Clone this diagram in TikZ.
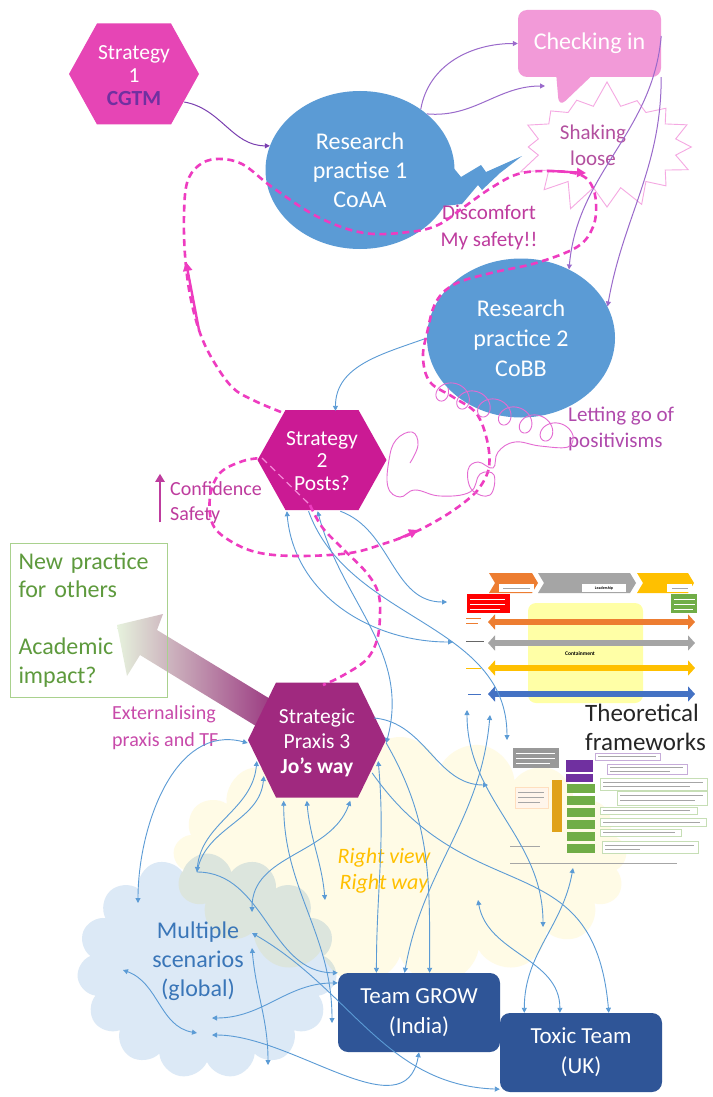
\documentclass[tikz,border=0pt]{standalone}
\usepackage{fontspec}
\setmainfont{Carlito}
\usetikzlibrary{shapes.geometric,shapes.symbols,shapes.callouts,arrows.meta,positioning}
\newcommand{\fsz}[2]{\fontsize{#1}{#2}\selectfont}
\definecolor{circblue}{HTML}{5B9BD5}
\definecolor{hexone}{HTML}{E645B5}
\definecolor{hextwo}{HTML}{CB1A94}
\definecolor{hexthree}{HTML}{A0297F}
\definecolor{cgtm}{HTML}{7030A0}
\definecolor{chkpink}{HTML}{F29AD8}
\definecolor{burstpink}{HTML}{F5A8E2}
\definecolor{loopcol}{HTML}{EE3CC0}
\definecolor{scribble}{HTML}{E46BD2}
\definecolor{purpline}{HTML}{9A6ACB}
\definecolor{purpdark}{HTML}{7A3FB0}
\definecolor{arrowblue}{HTML}{5B9BD5}
\definecolor{teamblue}{HTML}{2F5597}
\definecolor{labmag}{HTML}{BE3C9E}
\definecolor{shakecol}{HTML}{B3509F}
\definecolor{letcol}{HTML}{B04AAC}
\definecolor{extcol}{HTML}{C84AAA}
\definecolor{multcol}{HTML}{3A76B8}
\definecolor{rvyellow}{HTML}{FFC000}
\definecolor{npgreen}{HTML}{A9D18E}
\definecolor{nptext}{HTML}{5E9A3D}
\definecolor{arrlight}{HTML}{E6F2DD}
\definecolor{arrgreen}{HTML}{A9D18E}
\definecolor{arrpurple}{HTML}{952B7A}
\definecolor{beigecl}{HTML}{FFFBE6}
\definecolor{bluecl}{HTML}{DCE9F6}
\definecolor{tforange}{HTML}{ED7D31}
\definecolor{tfgrey}{HTML}{A5A5A5}
\definecolor{tfyellow}{HTML}{FFC000}
\definecolor{tfgreen}{HTML}{70AD47}
\definecolor{tfblue}{HTML}{4472C4}
\definecolor{tfpale}{HTML}{FFFFA6}
\definecolor{tfpurple}{HTML}{7030A0}
\definecolor{tfbar}{HTML}{E0A21A}
\begin{document}
\begin{tikzpicture}[x=1pt,y=-1pt,
  >={Triangle[length=5pt,width=5pt]},
  hexlbl/.style={rectangle,inner sep=0pt,text=white,align=center},
  circ/.style={ellipse,fill=circblue,text=white,align=center,inner sep=0pt,font=\fsz{24}{29}},
  team/.style={rectangle,rounded corners=10pt,fill=teamblue,text=white,align=center,inner sep=0pt,font=\fsz{23}{30}},
  lbl/.style={inner sep=0pt,align=center},
  blu/.style={draw=arrowblue,line width=0.9pt},
  purp/.style={draw=purpline,line width=1pt},
  loopdash/.style={draw=loopcol,line width=2.6pt,dash pattern=on 7pt off 4.5pt},
  looparr/.style={draw=loopcol,line width=2.4pt,-{Triangle[length=9pt,width=9pt]}},
  tfarr/.style={draw=#1,line width=6pt,{Triangle[length=7pt,width=15pt]}-{Triangle[length=7pt,width=15pt]}},
  txtline/.style={draw=black!35,line width=0.7pt},
  tfbox/.style={draw=#1,line width=0.5pt,fill=white}]

    \fill[white] (0,0) rectangle (712,1097);
    \useasboundingbox (0,0) rectangle (712,1097);

    % clouds behind the teams
    \draw (400,861) node (bgcloud) [cloud,cloud puffs=17,cloud ignores aspect,fill=beigecl,minimum width=454pt,minimum height=248pt] {};
    \draw (207,966) node (msscloud) [cloud,cloud puffs=15,cloud ignores aspect,fill=bluecl,blend mode=multiply,minimum width=260pt,minimum height=225pt] {};

    % theoretical frameworks picture
    \fill[tforange] (489,573) -- (532,573) -- (538,583) -- (532,593) -- (489,593) -- (495,583) -- cycle;
    \fill[tfgrey] (538,573) -- (630,573) -- (636,583) -- (630,593) -- (538,593) -- (544,583) -- cycle;
    \fill[tfyellow] (637,573) -- (688,573) -- (694,583) -- (688,593) -- (637,593) -- (643,583) -- cycle;
    \fill[white] (499,584) rectangle (534,592);
    \fill[white] (582,584) rectangle (626,592);
    \fill[white] (667,584) rectangle (692,592);
    \draw (604,588) node (lead) [lbl,font=\fsz{4}{5}\bfseries] {Leadership};
    \draw[txtline,line width=0.5pt] (503,588) -- (530,588);
    \draw[txtline,line width=0.5pt] (672,588) -- (688,588);
    \fill[red] (467,594) rectangle (510,613);
    \draw[white,line width=0.6pt] (470,599) -- (505,599);
    \draw[white,line width=0.6pt] (470,604) -- (505,604);
    \draw[white,line width=0.6pt] (470,609) -- (500,609);
    \fill[tfgreen] (671,594) rectangle (697,613);
    \draw[white,line width=0.6pt] (674,599) -- (695,599);
    \draw[white,line width=0.6pt] (674,604) -- (695,604);
    \draw[white,line width=0.6pt] (674,609) -- (693,609);
    \fill[tfpale,rounded corners=8pt] (528,603) rectangle (643,703);
    \draw[tfarr=tforange] (488,622) -- (695,622);
    \draw[tfarr=tfgrey] (488,643) -- (695,643);
    \draw[tfarr=tfyellow] (488,668) -- (695,668);
    \draw[tfarr=tfblue] (488,694) -- (695,694);
    \draw (580,654) node (contain) [lbl,font=\fsz{5.5}{6}\bfseries] {Containment};
    \draw[tforange,line width=0.6pt] (466,618) -- (481,618);
    \draw[tforange,line width=0.6pt] (466,623) -- (478,623);
    \draw[black!60,line width=0.6pt] (466,641) -- (484,641);
    \draw[tfyellow,line width=0.6pt] (466,668) -- (481,668);
    \draw[tfblue,line width=0.6pt] (468,694) -- (481,694);
    \fill[black!40] (513,748) rectangle (559,768);
    \draw[white,line width=0.5pt] (516,753) -- (555,753);
    \draw[white,line width=0.5pt] (516,758) -- (555,758);
    \draw[white,line width=0.5pt] (516,763) -- (550,763);
    \filldraw[fill=orange!8,draw=orange!25] (515,787) rectangle (548,808);
    \draw[txtline,line width=0.5pt] (518,792) -- (544,792);
    \draw[txtline,line width=0.5pt] (518,797) -- (544,797);
    \draw[txtline,line width=0.5pt] (518,802) -- (540,802);
    \fill[tfbar] (552,780) rectangle (562,832);
    \fill[tfpurple] (566,760) rectangle (593,772);
    \fill[tfpurple] (566,774) rectangle (593,782);
    \fill[tfgreen] (567,784) rectangle (595,793);
    \fill[tfgreen] (567,796) rectangle (595,805);
    \fill[tfgreen] (567,808) rectangle (595,817);
    \fill[tfgreen] (567,820) rectangle (595,829);
    \fill[tfgreen] (567,832) rectangle (595,841);
    \fill[tfgreen] (567,844) rectangle (595,853);
    \draw[tfbox=tfpurple!40] (595,753) rectangle (660,760);
    \draw[tfbox=tfpurple!40] (607,764) rectangle (687,774);
    \draw[tfbox=tfgreen!40] (600,778) rectangle (707,790);
    \draw[tfbox=tfgreen!40] (617,791) rectangle (707,805);
    \draw[tfbox=tfgreen!40] (600,807) rectangle (697,814);
    \draw[tfbox=tfgreen!40] (600,818) rectangle (706,826);
    \draw[tfbox=tfgreen!40] (600,829) rectangle (681,836);
    \draw[tfbox=tfgreen!40] (602,841) rectangle (698,853);
    \draw[txtline,line width=0.5pt] (598,756.5) -- (656,756.5);
    \draw[txtline,line width=0.5pt] (610,767) -- (683,767);
    \draw[txtline,line width=0.5pt] (610,771) -- (670,771);
    \draw[txtline,line width=0.5pt] (603,782) -- (703,782);
    \draw[txtline,line width=0.5pt] (603,786) -- (690,786);
    \draw[txtline,line width=0.5pt] (620,795) -- (703,795);
    \draw[txtline,line width=0.5pt] (620,800) -- (695,800);
    \draw[txtline,line width=0.5pt] (603,810.5) -- (690,810.5);
    \draw[txtline,line width=0.5pt] (603,822) -- (700,822);
    \draw[txtline,line width=0.5pt] (603,832.5) -- (675,832.5);
    \draw[txtline,line width=0.5pt] (605,845) -- (694,845);
    \draw[txtline,line width=0.5pt] (605,849.5) -- (640,849.5);
    \draw[txtline,line width=0.5pt] (510,846) -- (540,846);
    \draw[txtline,line width=0.5pt] (510,863) -- (677,863);

    % gradient arrow out of praxis 3
    \shade[left color=arrlight,middle color=arrgreen,right color=arrpurple] (117,625) -- (163,614) -- (157,630) -- (285,708) -- (269,734) -- (140,655) -- (127,676) -- cycle;

    % hexagons
    \fill[hexone] (69,74) -- (97,23.5) -- (171,23.5) -- (199,74) -- (171,124.5) -- (97,124.5) -- cycle;
    \fill[hextwo] (257.5,460) -- (285.5,410) -- (358.5,410) -- (386.5,460) -- (358.5,510) -- (285.5,510) -- cycle;
    \fill[hexthree] (248,740) -- (276,682.5) -- (358,682.5) -- (386,740) -- (358,797.5) -- (276,797.5) -- cycle;
    \draw (134,76) node (s1) [hexlbl,minimum width=130pt,minimum height=101pt,font=\fsz{21.5}{23}] {Strategy\\1\\\textcolor{cgtm}{\textbf{CGTM}}};
    \draw (322,461) node (s2) [hexlbl,minimum width=129pt,minimum height=100pt,font=\fsz{21.5}{22.5}] {Strategy\\2\\Posts?};
    \draw (317,743) node (sp3) [hexlbl,minimum width=138pt,minimum height=115pt,font=\fsz{21.5}{25}] {Strategic\\Praxis 3\\\textbf{Jo’s way}};

    % research circles, checking in
    \draw (360,170) node (rp1) [circ,minimum width=189pt,minimum height=158pt] {Research\\practise 1\\CoAA};
    \fill[circblue] (452,166) -- (461,177) -- (481,165) -- (486,172) -- (522,156) -- (500,173) -- (482,190) -- (478,185) -- (462,204) -- (444,206) -- cycle;
    \draw (521,338) node (rp2) [circ,minimum width=188pt,minimum height=159pt,font=\fsz{24}{30}] {Research\\practice 2\\CoBB};
    \draw (589.5,43.5) node (chk) [rectangle callout,fill=chkpink,rounded corners=9pt,minimum width=143pt,minimum height=67pt,callout absolute pointer={(559,107)},callout pointer width=34pt,text=white,font=\fsz{24}{29}] {Checking in};
    \draw (607,147) node (burst) [starburst,draw=burstpink,line width=0.9pt,starburst points=16,starburst point height=26pt,random starburst=7,minimum width=192pt,minimum height=135pt] {};

    % boxes and labels
    \draw (88.5,620) node (newp) [draw=npgreen,line width=1pt,minimum width=157pt,minimum height=154pt,text width=140pt,align=left,text=nptext,font=\fsz{24}{28.5}] {New practice\\for others\\[28.5pt]Academic\\impact?};
    \draw (419,1012.5) node (grow) [team,minimum width=162pt,minimum height=79pt] {Team GROW\\(India)};
    \draw (581,1052.5) node (toxic) [team,minimum width=162pt,minimum height=79pt] {Toxic Team\\(UK)};
    \draw (593,145) node (shaketxt) [lbl,text=shakecol,font=\fsz{21}{26}] {Shaking\\loose};
    \draw (489,227) node (discom) [lbl,text=labmag,font=\fsz{21}{27}] {Discomfort\\My safety!!};
    \draw (568,429) node (letgo) [lbl,anchor=west,align=left,text=letcol,font=\fsz{21}{26}] {Letting go of\\positivisms};
    \draw (170,503) node (conf) [lbl,anchor=west,align=left,text=labmag,font=\fsz{20}{25}] {Confidence\\Safety};
    \draw (112,728) node (ext) [lbl,anchor=west,align=left,text=extcol,font=\fsz{20}{27}] {Externalising\\praxis and TF};
    \draw (198,961) node (multi) [lbl,text=multcol,font=\fsz{24}{29}] {Multiple\\scenarios\\(global)};
    \draw (384,871) node (rview) [lbl,text=rvyellow,font=\fsz{22}{26}\itshape] {Right view\\Right way};
    \draw (585,727) node (theo) [lbl,anchor=west,align=left,text=black!85,font=\fsz{25}{29}] {Theoretical\\frameworks};

    \draw[draw=labmag,line width=2.5pt,-{Triangle[length=8pt,width=9pt]}] ([xshift=-10pt,yshift=2pt]conf.south west) -- ([xshift=-10pt,yshift=8pt]conf.north west);

    % free ends of the blue arrows
    \coordinate (tfa) at (447,602);
    \coordinate (tfb) at (453,642);
    \coordinate (tfc) at (507,740);
    \coordinate (tfd) at (488,785);
    \coordinate (tfe) at (467,710);
    \coordinate (tff) at (490,715);
    \coordinate (rv1) at (478,900);
    \coordinate (rv2) at (573,868);
    \coordinate (rv4) at (543,927);
    \coordinate (ms1) at (138,903);
    \coordinate (ms2) at (197,872);
    \coordinate (ms3) at (252,912);
    \coordinate (ms4) at (252,933);
    \coordinate (ms5) at (252,948);
    \coordinate (ms6) at (123,970);
    \coordinate (ms7) at (197,1033);
    \coordinate (ms8) at (212,1018);
    \coordinate (ms9) at (212,1035);
    \coordinate (ms10) at (268,1065);
    \coordinate (ms11) at (325,900);
    \coordinate (ms12) at (332,1023);
    \coordinate (chkp) at (545,86);

    % purple arrows
    \draw[purp,draw=purpdark,->] ([xshift=-15pt,yshift=-26pt]s1.east) to[out=-10,in=180] (rp1.165);
    \draw[purp,->] (rp1.45) to[out=80,in=180] (chk.west);
    \draw[purp,->] (rp1.40) to[out=-5,in=180] (chkp);
    \draw[purp,->] (chk.-20) to[out=-95,in=85] (rp2.55);
    \draw[purp,->] (chk.south east) to[out=-90,in=80] (rp2.20);

    % blue arrows
    \draw[blu,->] (rp2.180) to[out=200,in=90] (s2.75);
    \draw[blu,<->] (s2.-125) to[out=-85,in=180] (tfb);
    \draw[blu,<->] (s2.-95) to[out=-75,in=75] (sp3.east);
    \draw[blu,->] (s2.-70) to[out=-20,in=180] (tfa);
    \draw[blu,->] (s2.-105) to[out=-70,in=90] (tfc);
    \draw[blu,<->] (sp3.west) to[out=165,in=90] (ms1);
    \draw[blu,<->] ([xshift=9pt,yshift=-18pt]sp3.west) to[out=-95,in=85] (ms2);
    \draw[blu,->] (ms2) to[out=80,in=-95] ([xshift=16pt,yshift=-33pt]sp3.west);
    \draw[blu,<->] (sp3.-120) to[out=-90,in=90] (ms12);
    \draw[blu,<->] (sp3.-100) to[out=-85,in=95] (ms11);
    \draw[blu,<->] (sp3.-60) to[out=-110,in=90] (ms3);
    \draw[blu,<->] ([xshift=-8pt,yshift=-18pt]sp3.east) to[out=-85,in=90] (grow.137);
    \draw[blu,<->] (tff) to[out=-95,in=80] (grow.110);
    \draw[blu,<->] (tfe) to[out=-90,in=90] (rv4);
    \draw[blu,<->] (rv1) to[out=-80,in=90] (toxic.118);
    \draw[blu,<->] (rv2) to[out=-100,in=90] (toxic.145);
    \draw[blu,->] ([xshift=-12pt,yshift=25pt]sp3.east) to[out=-5,in=180] (tfd);
    \draw[blu,->] ([xshift=-14pt,yshift=-30pt]sp3.east) to[out=-55,in=95,looseness=1.3] (toxic.55);
    \draw[blu,->] (sp3.east) to[out=-60,in=90] (grow.75);
    \draw[blu,<->] (ms4) to[out=-30,in=178] ([yshift=3pt]toxic.south west);
    \draw[blu,<->] (ms5) to[out=-85,in=90] (ms10);
    \draw[blu,<->] (ms6) to[out=-20,in=170] (ms7);
    \draw[blu,<->] (ms8) to[out=0,in=180] (grow.160);
    \draw[blu,<->] (ms9) to[out=0,in=-100] (grow.-90);
    \draw[blu,->] (ms2) to[out=0,in=180] (grow.north west);

    % pink loop of the journey
    \draw[loopdash] plot[smooth,tension=0.6] coordinates {(281,412) (255,401) (233,388) (214,362) (200,333) (190,295) (185,255) (184,215) (187,183) (198,166) (216,159) (242,164) (272,187) (318,217) (364,233) (409,232) (438,225) (464,207) (491,188) (518,174) (548,171) (578,174) (591,184) (596,203) (593,227) (577,247) (536,263) (491,273) (455,284) (436,302) (427,333) (423,358) (430,382) (453,397) (476,413) (487,440) (489,467) (480,487) (466,501) (443,517) (413,533) (383,544) (350,553) (300,556) (260,553) (232,542) (213,525) (210,497) (220,473) (243,461) (262,458)};
    \draw[loopdash,line width=1.2pt,draw=loopcol!60] (262,458) -- (310,505);
    \draw[loopdash] plot[smooth,tension=0.6] coordinates {(310,505) (322,527) (342,548) (366,572) (378,592) (380,614) (377,640) (366,660) (342,676) (323,685)};
    \draw[looparr] (199,330) -- (186,262);
    \draw[looparr] (552,171) -- (586,173);
    \draw[looparr] (398,539) -- (418,530);

    % letting go scribble
    \draw[scribble,line width=0.9pt] plot[domain=0:2160,samples=280,variable=\t] ({437+0.0579*\t+11*cos(\t)},{388+0.0222*\t+11*sin(\t)});
    \draw[scribble,line width=0.9pt] plot[smooth,tension=0.7] coordinates {(573,436) (568,447) (540,446) (515,442) (498,452) (493,468) (478,462) (468,470) (472,490) (490,495) (494,475) (480,474) (470,492) (440,496) (415,490) (400,497) (388,487) (389,460) (396,440) (412,432) (418,445) (410,463)};

\end{tikzpicture}
\end{document}
